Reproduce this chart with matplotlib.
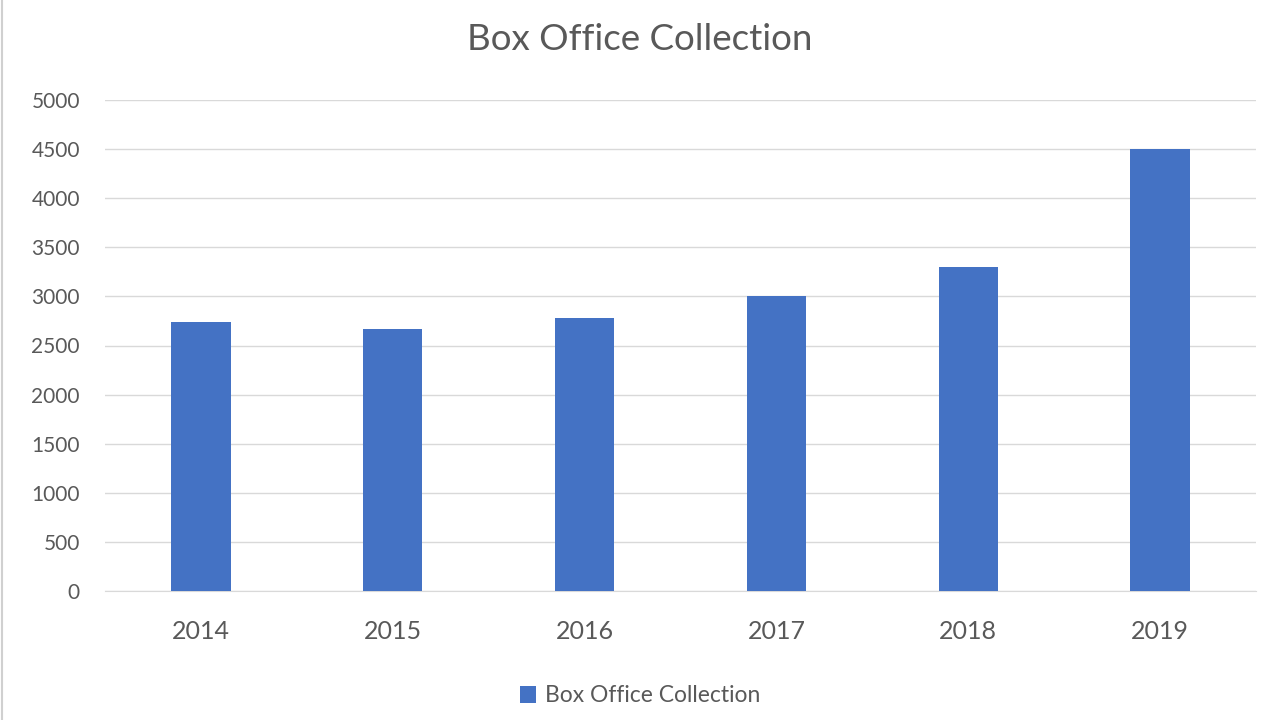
import matplotlib
matplotlib.use("Agg")
import matplotlib.pyplot as plt
from matplotlib.lines import Line2D

years = ["2014", "2015", "2016", "2017", "2018", "2019"]
collection = [2735, 2665, 2775, 3000, 3300, 4500]
series_name = "Box Office Collection"
yticks = [0, 500, 1000, 1500, 2000, 2500, 3000, 3500, 4000, 4500, 5000]

plt.rcParams['font.family'] = ['Lato', 'DejaVu Sans']
text_color = "#595959"
grid_color = "#d9d9d9"
bar_color = "#4472C4"

fig = plt.figure(figsize=(12.8, 7.2), dpi=100)
ax = fig.add_axes([105/1280, 1 - 591/720, 1151/1280, 491/720])

x = list(range(len(years)))
ax.bar(x, collection, width=0.31, color=bar_color, label=series_name, zorder=3)
ax.set_xlim(-0.5, len(years) - 0.5)
ax.set_ylim(0, 5000)
ax.set_yticks(yticks)
ax.set_yticklabels([str(t) for t in yticks])
ax.set_xticks(x)
ax.set_xticklabels(years)
ax.yaxis.grid(True, color=grid_color, linewidth=1, zorder=0)
ax.set_axisbelow(True)
for s in ["top", "right", "left"]:
    ax.spines[s].set_visible(False)
ax.spines["bottom"].set_color(grid_color)
ax.tick_params(axis='y', length=0, pad=18, labelsize=15, labelcolor=text_color)
ax.tick_params(axis='x', length=0, pad=21, labelsize=18, labelcolor=text_color)

fig.text(0.5, 1 - 40/720, series_name, ha='center', va='center', fontsize=26.5, color=text_color)
leg = fig.legend(loc='center', bbox_to_anchor=(0.5, 1 - 696/720), frameon=False,
                 fontsize=16.5, handlelength=0.7, handleheight=0.7, handletextpad=0.4)
for t in leg.get_texts():
    t.set_color(text_color)

fig.lines.append(Line2D([1.5/1280, 1.5/1280], [0, 1], transform=fig.transFigure,
                        color="#d0d0d0", linewidth=1.5))
fig.savefig("out.png", dpi=100)
